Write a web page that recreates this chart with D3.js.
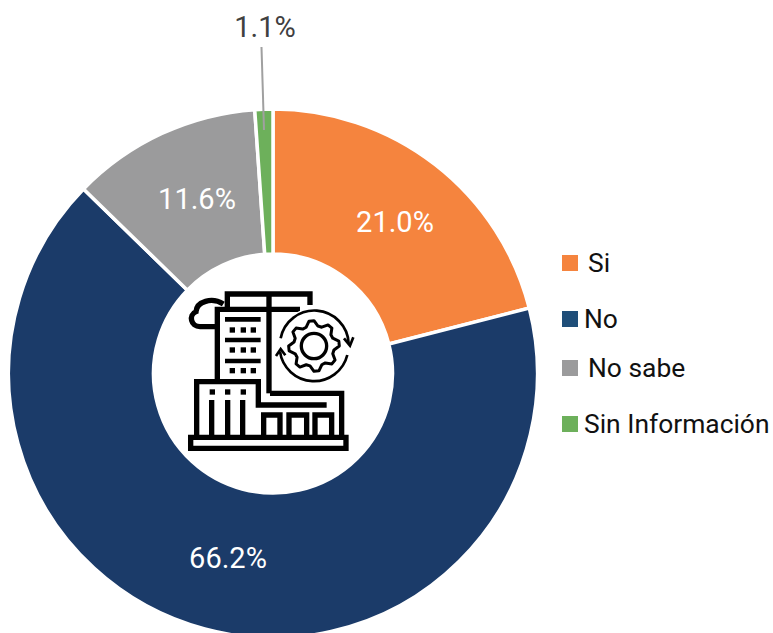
<!DOCTYPE html>
<html><head><meta charset="utf-8">
<script src="https://cdn.jsdelivr.net/npm/d3@7"></script>
<style>html,body{margin:0;padding:0;background:#fff;overflow:hidden}text{font-family:Roboto,sans-serif}</style>
</head><body><svg id="c" width="773" height="633"></svg>
<script>
const categories=["Si","No","No sabe","Sin Información"];
const values=[21.0,66.2,11.6,1.1];
const labels=["21.0%","66.2%","11.6%","1.1%"];
const colors=["#F5843E","#1B3B69","#9B9B9C","#6DB05B"];
const legendColors=["#F5843E","#1F4E79","#9B9B9C","#6DB05B"];
const legendDx=[26,22,26,22];
const legendY=[263,319,368,424];
const svg=d3.select("#c");
const cx=273,cy=373.5,R=264.5,r=119.5;
const pie=d3.pie().sort(null).value(d=>d)(values);
const arc=d3.arc().innerRadius(r).outerRadius(R);
const g=svg.append("g").attr("transform",`translate(${cx},${cy})`);
g.selectAll("path").data(pie).join("path").attr("d",arc)
 .attr("fill",(d,i)=>colors[i]).attr("stroke","#fff").attr("stroke-width",3.5);
// labels
const labelPos=[[395,222],[228,558],[197,199]];
labelPos.forEach((p,i)=>svg.append("text").attr("x",p[0]).attr("y",p[1]).attr("text-anchor","middle")
 .attr("dominant-baseline","central").attr("font-size",29).attr("fill","#fff").text(labels[i]));
svg.append("text").attr("x",265).attr("y",27).attr("text-anchor","middle").attr("dominant-baseline","central")
 .attr("font-size",29).attr("fill","#404040").text(labels[3]);
svg.append("line").attr("x1",261.5).attr("y1",47).attr("x2",264).attr("y2",130).attr("stroke","#A0A0A0").attr("stroke-width",2);
// legend
categories.forEach((c,i)=>{
 svg.append("rect").attr("x",562).attr("y",legendY[i]-8).attr("width",16).attr("height",16).attr("fill",legendColors[i]);
 svg.append("text").attr("x",562+legendDx[i]).attr("y",legendY[i]).attr("dominant-baseline","central")
  .attr("font-size",26.4).attr("fill","#111").text(c);
});
// icon (decoration)
const ic=svg.append("g").attr("transform","translate(170,280) scale(0.3333)")
 .attr("fill","none").attr("stroke","#000").attr("stroke-width",16);
[
 "M172,85V42H420V75","M297,42V340","M142,298V88H390",
 "M135,140H90C62,140 55,105 78,95C80,65 125,50 160,72",
 "M80,470V305H265V375H470","M300,340H515V470",
 "M125,360V468","M173,360V468","M218,360V468",
 "M281,468V405H330V468","M357,468V405H410V468","M435,468V405H485V468",
 "M62,472H528V505H62Z"
].forEach(d=>ic.append("path").attr("d",d));
[118,180,243].forEach(y=>ic.append("path").attr("d",`M165,${y}H272`).attr("stroke-width",14));
[150,210,272].forEach(y=>[187,220,250].forEach(x=>ic.append("rect").attr("x",x-8).attr("y",y-8).attr("width",16).attr("height",16).attr("fill","#000").attr("stroke","none")));
[127,173,220].forEach(x=>ic.append("rect").attr("x",x-8).attr("y",328).attr("width",16).attr("height",16).attr("fill","#000").attr("stroke","none"));
ic.append("circle").attr("cx",432).attr("cy",198).attr("r",114).attr("fill","#fff").attr("stroke","none");
ic.append("path").attr("stroke-width",8).attr("d","M332,175A103,103 0 0 1 536,190M532,225A103,103 0 0 1 330,215");
ic.append("path").attr("stroke-width",8).attr("d","M522,175L540,197L550,172M318,228L332,207L346,226");
const teeth=8,pts=[];
for(let i=0;i<teeth*4;i++){const a=i/(teeth*4)*2*Math.PI-Math.PI/16;const rr=(i%4<2)?76:61;pts.push([432+rr*Math.cos(a),198+rr*Math.sin(a)]);}
ic.append("path").attr("stroke-width",9).attr("stroke-linejoin","round").attr("d",d3.line()(pts)+"Z");
ic.append("circle").attr("cx",432).attr("cy",198).attr("r",38).attr("stroke-width",10);
</script></body></html>
